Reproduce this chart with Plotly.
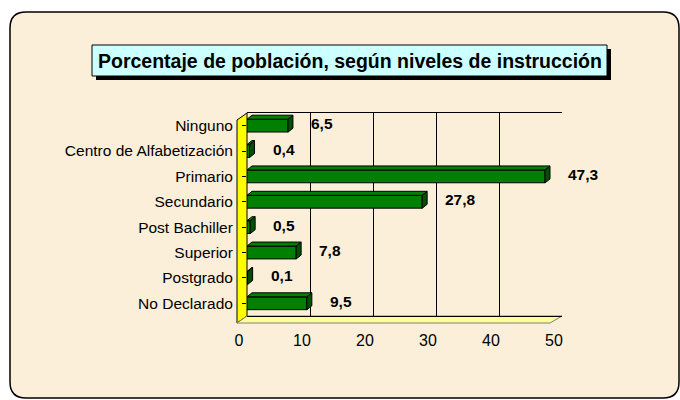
import plotly.graph_objects as go

categories = ["Ninguno", "Centro de Alfabetización", "Primario", "Secundario",
              "Post Bachiller", "Superior", "Postgrado", "No Declarado"]
values = [6.5, 0.4, 47.3, 27.8, 0.5, 7.8, 0.1, 9.5]
value_labels = ["6,5", "0,4", "47,3", "27,8", "0,5", "7,8", "0,1", "9,5"]
x_ticks = [0, 10, 20, 30, 40, 50]
title_text = "Porcentaje de población, según niveles de instrucción"

W, H = 680, 400
L, R, T, B = 247, 562, 113, 316  # plot area in pixels

def P(px, py):
    # pixel -> offset from paper anchor (0,0) with y up
    return f"{px - L},{B - py}"

def path(points, close=True):
    s = "M " + " L ".join(P(x, y) for x, y in points)
    return s + (" Z" if close else "")

def fx(px):
    return (px - L) / (R - L)

def fy(py):
    return (B - py) / (B - T)

shapes = []

def pshape(d, fill, line_color="black", width=1, layer="below"):
    shapes.append(dict(type="path", path=d, xref="paper", yref="paper",
                       xsizemode="pixel", ysizemode="pixel", xanchor=0, yanchor=0,
                       fillcolor=fill, line=dict(color=line_color, width=width),
                       layer=layer))

# rounded outer frame
x0, y0, x1, y1, r = 10, 12, 679, 398, 16
frame = (f"M {P(x0 + r, y0)} L {P(x1 - r, y0)} Q {P(x1, y0)} {P(x1, y0 + r)} "
         f"L {P(x1, y1 - r)} Q {P(x1, y1)} {P(x1 - r, y1)} L {P(x0 + r, y1)} "
         f"Q {P(x0, y1)} {P(x0, y1 - r)} L {P(x0, y0 + r)} Q {P(x0, y0)} {P(x0 + r, y0)} Z")
pshape(frame, "#FCEFD9", width=1.5)

# title box with shadow
pshape(path([(96, 49), (611, 49), (611, 80), (96, 80)]), "black", width=0)
pshape(path([(92, 45), (607, 45), (607, 76), (92, 76)]), "#CCFFFF", width=1)

# left side wall and floor
pshape(path([(247, 113), (237, 120), (237, 323), (247, 316)]), "#FFFF00", width=1)
pshape(path([(237, 323), (247, 316), (562, 316), (550, 323)]), "#FFFF99", "#808080", width=1)

fig = go.Figure()
fig.add_trace(go.Bar(
    y=categories, x=values, orientation="h", width=0.5,
    marker=dict(color="#008000", line=dict(color="black", width=1)),
    hoverinfo="skip", showlegend=False,
))

# 3D caps of bars (side + top) anchored at each bar end
dx_px, dy_px, half = 5, 4, 6.5
for cat, v in zip(categories, values):
    shapes.append(dict(type="path", xref="x", yref="y", xsizemode="pixel", ysizemode="pixel",
                       xanchor=v, yanchor=cat,
                       path=f"M 0,{half} L {dx_px},{half + dy_px} L {dx_px},{-half + dy_px} L 0,{-half} Z",
                       fillcolor="#005000", line=dict(color="black", width=1), layer="above"))
    shapes.append(dict(type="path", xref="x", yref="y", xsizemode="pixel", ysizemode="pixel",
                       xanchor=0, yanchor=cat,
                       path=f"M 0,{half} L {dx_px},{half + dy_px} L {dx_px + v * (R - L) / 50},{half + dy_px} L {v * (R - L) / 50},{half} Z",
                       fillcolor="#008000", line=dict(color="black", width=1), layer="above"))

annotations = []
for cat, v, t in zip(categories, values, value_labels):
    annotations.append(dict(x=v, y=cat, xref="x", yref="y", text=f"<b>{t}</b>",
                            showarrow=False, xanchor="left", xshift=21, yshift=2,
                            font=dict(family="Liberation Sans, Arial", size=15.5, color="black")))

annotations.append(dict(x=fx(349.5), y=fy(60.5), xref="paper", yref="paper",
                        text=f"<b>{title_text}</b>", showarrow=False,
                        xanchor="center", yanchor="middle",
                        font=dict(family="Liberation Sans, Arial", size=19.5, color="black")))

fig.update_layout(
    width=W, height=H,
    margin=dict(l=L, r=W - R, t=T, b=H - B, pad=0),
    paper_bgcolor="white",
    plot_bgcolor="#FFFF99",
    bargap=0.5,
    shapes=shapes,
    annotations=annotations,
    font=dict(family="Liberation Sans, Arial", color="black"),
    xaxis=dict(range=[0, 50], tickvals=x_ticks, ticktext=[str(t) for t in x_ticks],
               showgrid=True, gridcolor="black", gridwidth=1, zeroline=False,
               showline=True, linecolor="black", mirror=True,
               ticks="", tickfont=dict(size=16), ticklabelstandoff=10, ticklabelshift=-8,
               fixedrange=True),
    yaxis=dict(categoryorder="array", categoryarray=categories, autorange="reversed",
               showgrid=False, zeroline=False, showline=False,
               ticks="outside", ticklen=4, tickcolor="black",
               tickfont=dict(size=15.5), ticklabelstandoff=6, fixedrange=True),
)

fig.write_html("out.html", post_script="document.body.style.margin='0';",
               config={"displayModeBar": False})
